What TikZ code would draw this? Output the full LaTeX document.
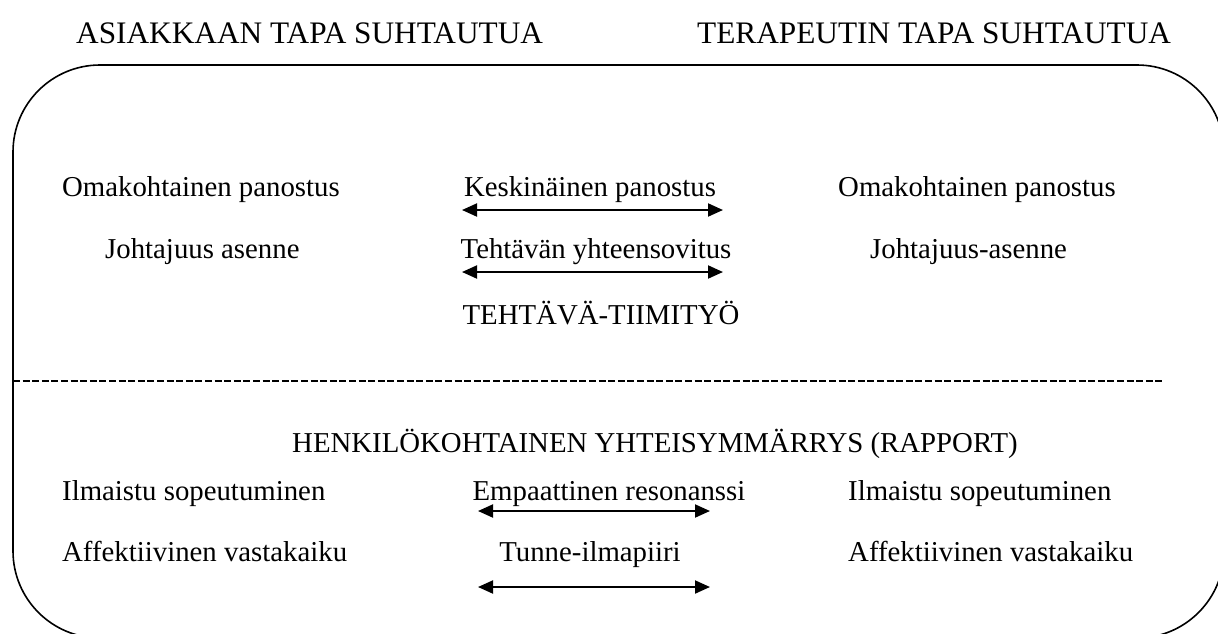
\documentclass[tikz,border=0pt]{standalone}
\usepackage{fontspec}
\setmainfont{Liberation Serif}
\usetikzlibrary{arrows.meta}
\tikzset{
  txt/.style={inner sep=0pt, font=\fontsize{28.8}{34}\selectfont},
  hdr/.style={inner sep=0pt, anchor=base west, font=\fontsize{31.3}{36}\selectfont},
  lt/.style={txt, anchor=base west},
  ct/.style={txt, anchor=base},
  dbl/.style={line width=2pt, {Triangle[length=15pt,width=13pt]}-{Triangle[length=15pt,width=13pt]}},
  frame/.style={line width=1.6pt, rounded corners=87pt},
  sep/.style={line width=1.8pt, dash pattern=on 7pt off 2.6pt}
}
\begin{document}
\begin{tikzpicture}[x=1pt,y=-1pt]
\useasboundingbox (0,0) rectangle (1218,633);
\clip (0,0) rectangle (1218,633);
% frame
\draw[frame] (13,65) rectangle (1224,638);
% headers
\node[hdr] (h1) at (76,43) {ASIAKKAAN TAPA SUHTAUTUA};
\node[hdr] (h2) at (697,43) {TERAPEUTIN TAPA SUHTAUTUA};
% upper rows
\node[lt] (l1) at (62,196) {Omakohtainen panostus};
\node[ct] (m1) at (590,196) {Keskinäinen panostus};
\node[lt] (r1) at (838,196) {Omakohtainen panostus};
\coordinate (a1l) at (462,210);
\coordinate (a1r) at (723,210);
\draw[dbl] (a1l) -- (a1r);
\node[lt] (l2) at (105,258) {Johtajuus asenne};
\node[ct] (m2) at (596,258) {Tehtävän yhteensovitus};
\node[lt] (r2) at (870,258) {Johtajuus-asenne};
\coordinate (a2l) at (462,272);
\coordinate (a2r) at (723,272);
\draw[dbl] (a2l) -- (a2r);
\node[ct] (tt) at (601,324) {TEHTÄVÄ-TIIMITYÖ};
% separator
\coordinate (s1) at (13,381);
\coordinate (s2) at (1163,381);
\draw[sep] (s1) -- (s2);
\node[ct] (hy) at (655,452) {HENKILÖKOHTAINEN YHTEISYMMÄRRYS (RAPPORT)};
% lower rows
\node[lt] (l3) at (62,500) {Ilmaistu sopeutuminen};
\node[ct] (m3) at (609,500) {Empaattinen resonanssi};
\node[lt] (r3) at (848,500) {Ilmaistu sopeutuminen};
\coordinate (a3l) at (478,511);
\coordinate (a3r) at (710,511);
\draw[dbl] (a3l) -- (a3r);
\node[lt] (l4) at (62,561) {Affektiivinen vastakaiku};
\node[ct] (m4) at (590,561) {Tunne-ilmapiiri};
\node[lt] (r4) at (848,561) {Affektiivinen vastakaiku};
\coordinate (a4l) at (478,587);
\coordinate (a4r) at (710,587);
\draw[dbl] (a4l) -- (a4r);
\end{tikzpicture}
\end{document}
